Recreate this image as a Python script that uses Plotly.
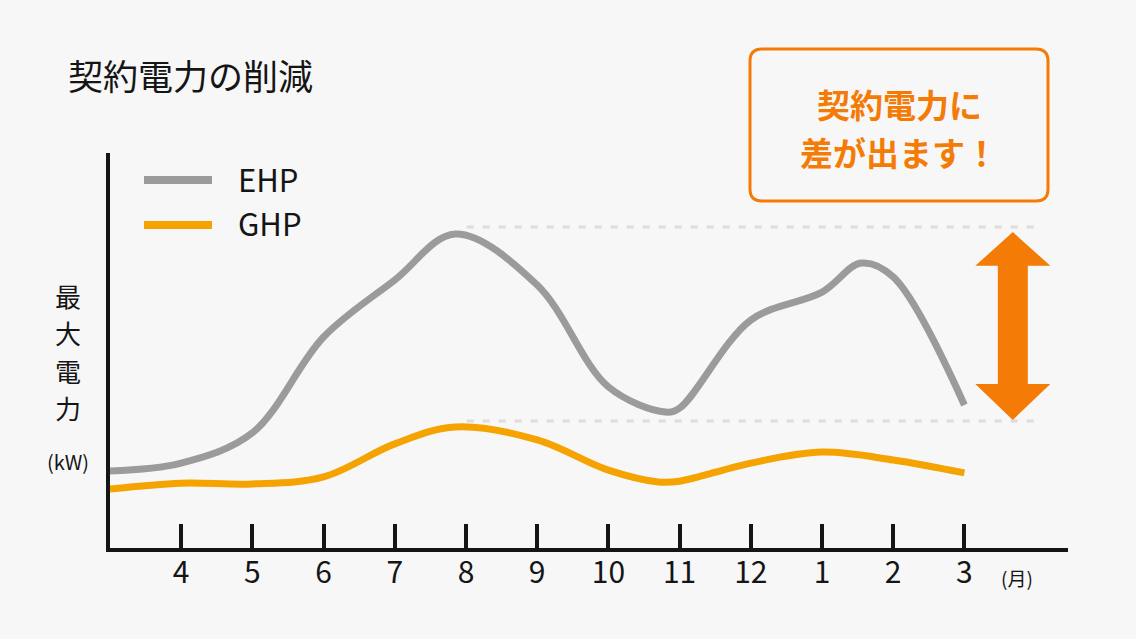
import plotly.graph_objects as go

# ---- data ----
months = ["4", "5", "6", "7", "8", "9", "10", "11", "12", "1", "2", "3"]
month_pos = list(range(1, 13))

ehp_x = [0, 1, 2, 3, 4, 4.85, 6, 7, 7.8, 8, 9, 10, 10.55, 11, 12]
ehp_y = [19.6, 21.6, 29.3, 53.7, 68.2, 79.9, 66.9, 41.0, 34.6, 35.6, 58.0, 65.1, 72.5, 69.0, 36.4]

ghp_x = [0, 1, 2, 3, 4, 4.85, 6, 7, 7.7, 8, 9, 10, 11, 12]
ghp_y = [15.0, 16.5, 16.3, 18.1, 26.5, 30.8, 27.5, 19.8, 16.8, 17.0, 21.6, 24.4, 22.4, 19.1]

peak_levels = [81.7, 32.3]

series_names = ["EHP", "GHP"]
title_text = "契約電力の削減"
box_lines = ["契約電力に", "差が出ます！"]
ylabel_chars = ["最", "大", "電", "力"]
unit_text = "(kW)"
month_unit = "(月)"

# ---- style ----
FONT = "Noto Sans CJK JP"
GRAY = "#9b9b9b"
YEL = "#f5a300"
ORANGE = "#f47b06"
BG = "#f7f7f7"
INK = "#151515"

W, H = 1136, 639
L, R, T, B = 110, 68, 153, 91
PW, PH = W - L - R, H - T - B
XMAX = PW / 71.2
YMAX = PH / 3.93


def px(xp):
    return (xp - L) / PW


def py(yp):
    return (H - B - yp) / PH


fig = go.Figure()
fig.add_trace(go.Scatter(x=ehp_x, y=ehp_y, mode="lines", name=series_names[0],
                         line=dict(color=GRAY, width=7, shape="spline", smoothing=1.0),
                         showlegend=False, hoverinfo="skip"))
fig.add_trace(go.Scatter(x=ghp_x, y=ghp_y, mode="lines", name=series_names[1],
                         line=dict(color=YEL, width=7, shape="spline", smoothing=1.0),
                         showlegend=False, hoverinfo="skip"))

shapes = []
# dashed peak lines
for lv in peak_levels:
    shapes.append(dict(type="line", xref="x", yref="y", x0=5.01, x1=13.1, y0=lv, y1=lv,
                       line=dict(color="#dcdcdc", width=3, dash="7px,9px"), layer="below"))

# double arrow
xc = 12.68
hw = 37.5 / 71.2
sw = 15 / 71.2
top, top_b = 80.4, 71.8
bot_b, bot = 41.7, 32.6
path = (f"M {xc},{top} L {xc+hw},{top_b} L {xc+sw},{top_b} L {xc+sw},{bot_b} "
        f"L {xc+hw},{bot_b} L {xc},{bot} L {xc-hw},{bot_b} L {xc-sw},{bot_b} "
        f"L {xc-sw},{top_b} L {xc-hw},{top_b} Z")
shapes.append(dict(type="path", xref="x", yref="y", path=path,
                   fillcolor=ORANGE, line=dict(width=0)))

# rounded box
bx0, bx1, by0, by1 = px(750), px(1048), py(201), py(49)
rx, ry = 12 / PW, 12 / PH
bpath = (f"M {bx0+rx},{by0} L {bx1-rx},{by0} Q {bx1},{by0} {bx1},{by0+ry} "
         f"L {bx1},{by1-ry} Q {bx1},{by1} {bx1-rx},{by1} L {bx0+rx},{by1} "
         f"Q {bx0},{by1} {bx0},{by1-ry} L {bx0},{by0+ry} Q {bx0},{by0} {bx0+rx},{by0} Z")
shapes.append(dict(type="path", xref="paper", yref="paper", path=bpath,
                   line=dict(color=ORANGE, width=3), fillcolor="rgba(0,0,0,0)"))

# legend lines
for yy, col in [(180, GRAY), (225, YEL)]:
    shapes.append(dict(type="line", xref="paper", yref="paper", x0=px(144), x1=px(212),
                       y0=py(yy), y1=py(yy), line=dict(color=col, width=8)))


def ann(text, x, y, size, color=INK, anchor="center", bold=False):
    f = dict(family=FONT, size=size, color=color)
    if bold:
        f["weight"] = "bold"
    return dict(text=text, xref="paper", yref="paper", x=px(x), y=py(y),
                xanchor=anchor, yanchor="middle", showarrow=False, font=f)


annotations = [
    ann(title_text, 66, 74, 35, anchor="left"),
    ann(series_names[0], 236, 178, 31, anchor="left"),
    ann(series_names[1], 236, 222, 31, anchor="left"),
    ann(unit_text, 68, 461, 20),
    ann(month_unit, 1017, 577, 19),
]
for i, t in enumerate(box_lines):
    annotations.append(ann(t, 899, 104 + 48 * i, 33, color=ORANGE, bold=True))
for i, c in enumerate(ylabel_chars):
    annotations.append(ann(c, 68, 295 + 37.5 * i, 26))

fig.update_layout(
    width=W, height=H,
    margin=dict(l=L, r=R, t=T, b=B, pad=0),
    paper_bgcolor=BG, plot_bgcolor=BG,
    shapes=shapes, annotations=annotations,
    showlegend=False,
    xaxis=dict(range=[0, XMAX], tickmode="array", tickvals=month_pos, ticktext=months,
               ticks="inside", ticklen=24, tickwidth=4, tickcolor=INK,
               ticklabelstandoff=-5,
               showline=True, linecolor=INK, linewidth=4, showgrid=False, zeroline=False,
               tickfont=dict(family=FONT, size=30, color=INK), fixedrange=True),
    yaxis=dict(range=[0, YMAX], showticklabels=False, ticks="",
               showline=True, linecolor=INK, linewidth=4, showgrid=False, zeroline=False,
               fixedrange=True),
)

fig.write_html("out.html", config={"displayModeBar": False},
               post_script="document.body.style.margin='0';document.body.style.padding='0';document.body.style.background='#f7f7f7';")
